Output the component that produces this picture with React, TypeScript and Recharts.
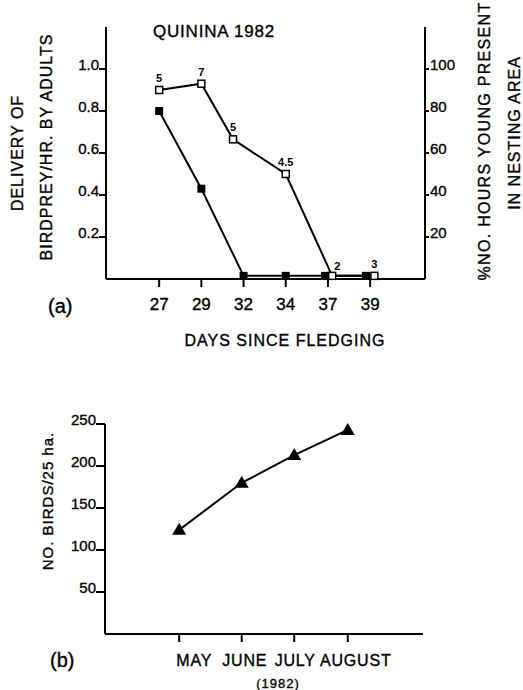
import React from 'react';
import { LineChart, Line, XAxis, YAxis, LabelList } from 'recharts';

const FONT = '"Liberation Sans", Arial, Helvetica, sans-serif';

// ---- Panel (a) data ----
const dayLabels = ['27', '29', '32', '34', '37', '39'];
const dayTicks = [0, 1, 2, 3, 4, 5];
const deliveryX = [0, 1, 2, 3, 3.93, 4.9];
const deliveryRate = [0.8, 0.43, 0.015, 0.015, 0.015, 0.015];
const presenceX = [0, 1, 1.75, 3, 4.1, 5.1];
const presencePct = [90, 93, 66.5, 50, 1.5, 1.5];
const presenceN = ['5', '7', '5', '4.5', '2', '3'];
const leftTicks = [0.2, 0.4, 0.6, 0.8, 1.0];
const rightTicks = [20, 40, 60, 80, 100];

// ---- Panel (b) data ----
const months = ['MAY', 'JUNE', 'JULY', 'AUGUST'];
const monthPos = [1.4, 2.58, 3.57, 4.58];
const birds = [124, 180, 213, 243];
const birdTicks = [50, 100, 150, 200, 250];

const deliveryData = deliveryX.map((x, i) => ({ x, y: deliveryRate[i] }));
const presenceData = presenceX.map((x, i) => ({ x, y: presencePct[i], n: presenceN[i] }));
const birdData = monthPos.map((x, i) => ({ x, y: birds[i] }));

const MONTH_DX = [15, 3, 1, 8];
const HEAVY = { stroke: '#000', strokeWidth: 0.35 };

const axisStyle = { stroke: '#000', strokeWidth: 2 };

const FilledSquare = (props: any) => {
  const { cx, cy, index } = props;
  if (cx == null || cy == null) return null;
  return <rect key={`fs${index}`} x={cx - 4} y={cy - 4} width={8} height={8} fill="#000" />;
};

const OpenSquare = (props: any) => {
  const { cx, cy, index } = props;
  if (cx == null || cy == null) return null;
  return (
    <rect key={`os${index}`} x={cx - 3.5} y={cy - 3.5} width={7} height={7} fill="#fff" stroke="#000" strokeWidth={1.5} />
  );
};

const Triangle = (props: any) => {
  const { cx, cy, index } = props;
  if (cx == null || cy == null) return null;
  return (
    <polygon
      key={`tr${index}`}
      points={`${cx - 7},${cy + 5} ${cx + 7},${cy + 5} ${cx},${cy - 7}`}
      fill="#000"
    />
  );
};

const PresenceLabel = (props: any) => {
  const { x, y, value, index } = props;
  const side = index === 4;
  return (
    <text
      x={side ? x + 2 : x}
      y={side ? y - 6 : y - 8}
      textAnchor={side ? 'start' : 'middle'}
      fontSize={11}
      fontWeight="bold"
      fontFamily={FONT}
      fill="#000"
    >
      {value}
    </text>
  );
};

const DayTick = (props: any) => {
  const { x, y, payload } = props;
  const i = dayTicks.indexOf(Math.round(payload.value));
  return (
    <text x={x} y={y} dy="0.71em" textAnchor="middle" fontSize={17} fontFamily={FONT} fill="#000" {...HEAVY}>
      {dayLabels[i]}
    </text>
  );
};

const LeftTick = (props: any) => {
  const { x, y, payload } = props;
  return (
    <text x={x} y={y + 1} textAnchor="end" fontSize={15} fontFamily={FONT} fill="#000" {...HEAVY}>
      {Number(payload.value).toFixed(1)}
    </text>
  );
};

const RightTick = (props: any) => {
  const { x, y, payload } = props;
  return (
    <text x={x} y={y + 1} textAnchor="start" fontSize={15} fontFamily={FONT} fill="#000" {...HEAVY}>
      {payload.value}
    </text>
  );
};

const BirdTick = (props: any) => {
  const { x, y, payload } = props;
  return (
    <text x={x} y={y + 1} textAnchor="end" fontSize={15} fontFamily={FONT} fill="#000" {...HEAVY}>
      {payload.value}
    </text>
  );
};

const MonthTick = (props: any) => {
  const { x, y, payload } = props;
  let i = 0;
  let best = Infinity;
  monthPos.forEach((p, k) => {
    const d = Math.abs(p - payload.value);
    if (d < best) {
      best = d;
      i = k;
    }
  });
  return (
    <text
      x={x + MONTH_DX[i]}
      y={y}
      dy="0.71em"
      textAnchor="middle"
      fontSize={16}
      letterSpacing={0.8}
      fontFamily={FONT}
      fill="#000"
      {...HEAVY}
    >
      {months[i]}
    </text>
  );
};

const T = (p: any) => <text fontFamily={FONT} fill="#000" {...HEAVY} {...p} />;

export default function App() {
  return (
    <div style={{ position: 'absolute', left: 0, top: 0, width: 523, height: 690, background: '#fff' }}>
      <div style={{ position: 'absolute', left: 0, top: 0 }}>
        <LineChart width={523} height={360} margin={{ top: 27, right: 38, left: 46, bottom: 46 }}>
          <XAxis
            type="number"
            dataKey="x"
            domain={[-1.26, 6.3]}
            ticks={dayTicks}
            allowDataOverflow
            height={35}
            tickSize={8}
            tickMargin={11}
            axisLine={axisStyle}
            tickLine={axisStyle}
            tick={<DayTick />}
          />
          <YAxis
            yAxisId="l"
            domain={[0, 1.2]}
            ticks={leftTicks}
            width={60}
            tickSize={7}
            tickMargin={0}
            axisLine={axisStyle}
            tickLine={axisStyle}
            tick={<LeftTick />}
          />
          <YAxis
            yAxisId="r"
            orientation="right"
            domain={[0, 120]}
            ticks={rightTicks}
            width={60}
            tickSize={4}
            tickMargin={1}
            axisLine={axisStyle}
            tickLine={axisStyle}
            tick={<RightTick />}
          />
          <Line
            yAxisId="l"
            data={deliveryData}
            dataKey="y"
            stroke="#000"
            strokeWidth={2}
            dot={FilledSquare}
            activeDot={false}
            isAnimationActive={false}
          />
          <Line
            yAxisId="r"
            data={presenceData}
            dataKey="y"
            stroke="#000"
            strokeWidth={2}
            dot={OpenSquare}
            activeDot={false}
            isAnimationActive={false}
          >
            <LabelList dataKey="n" content={<PresenceLabel />} />
          </Line>
        </LineChart>
      </div>
      <div style={{ position: 'absolute', left: 0, top: 390 }}>
        <LineChart width={523} height={300} margin={{ top: 34, right: 100, left: 45, bottom: 26 }}>
          <XAxis
            type="number"
            dataKey="x"
            domain={[0, 6]}
            ticks={monthPos}
            allowDataOverflow
            height={30}
            tickSize={8}
            tickMargin={13}
            axisLine={axisStyle}
            tickLine={axisStyle}
            tick={<MonthTick />}
          />
          <YAxis
            domain={[0, 250]}
            ticks={birdTicks}
            width={60}
            tickSize={9}
            tickMargin={0}
            axisLine={axisStyle}
            tickLine={axisStyle}
            tick={<BirdTick />}
          />
          <Line
            data={birdData}
            dataKey="y"
            stroke="#000"
            strokeWidth={2}
            dot={Triangle}
            activeDot={false}
            isAnimationActive={false}
          />
        </LineChart>
      </div>
      <svg
        width={523}
        height={690}
        style={{ position: 'absolute', left: 0, top: 0, pointerEvents: 'none' }}
      >
        <T x={153} y={37} fontSize={17} letterSpacing={0.8}>QUININA 1982</T>
        <T x={23} y={153} fontSize={16} letterSpacing={1} textAnchor="middle" transform="rotate(-90 23 153)">
          DELIVERY OF
        </T>
        <T x={52} y={147} fontSize={16} letterSpacing={1} textAnchor="middle" transform="rotate(-90 52 147)">
          BIRDPREY/HR. BY ADULTS
        </T>
        <T x={490} y={141} fontSize={16} letterSpacing={1.3} textAnchor="middle" transform="rotate(-90 490 141)">
          %NO. HOURS YOUNG PRESENT
        </T>
        <T x={520} y={133} fontSize={16} letterSpacing={1} textAnchor="middle" transform="rotate(-90 520 133)">
          IN NESTING AREA
        </T>
        <T x={48} y={313} fontSize={20}>(a)</T>
        <T x={285} y={346} fontSize={16} letterSpacing={1} textAnchor="middle">DAYS SINCE FLEDGING</T>
        <T x={50} y={667} fontSize={20}>(b)</T>
        <T x={53} y={501} fontSize={15} letterSpacing={1} textAnchor="middle" transform="rotate(-90 53 501)">
          NO. BIRDS/25 ha.
        </T>
        <T x={278} y={688} fontSize={13} letterSpacing={1} textAnchor="middle">(1982)</T>
      </svg>
    </div>
  );
}
